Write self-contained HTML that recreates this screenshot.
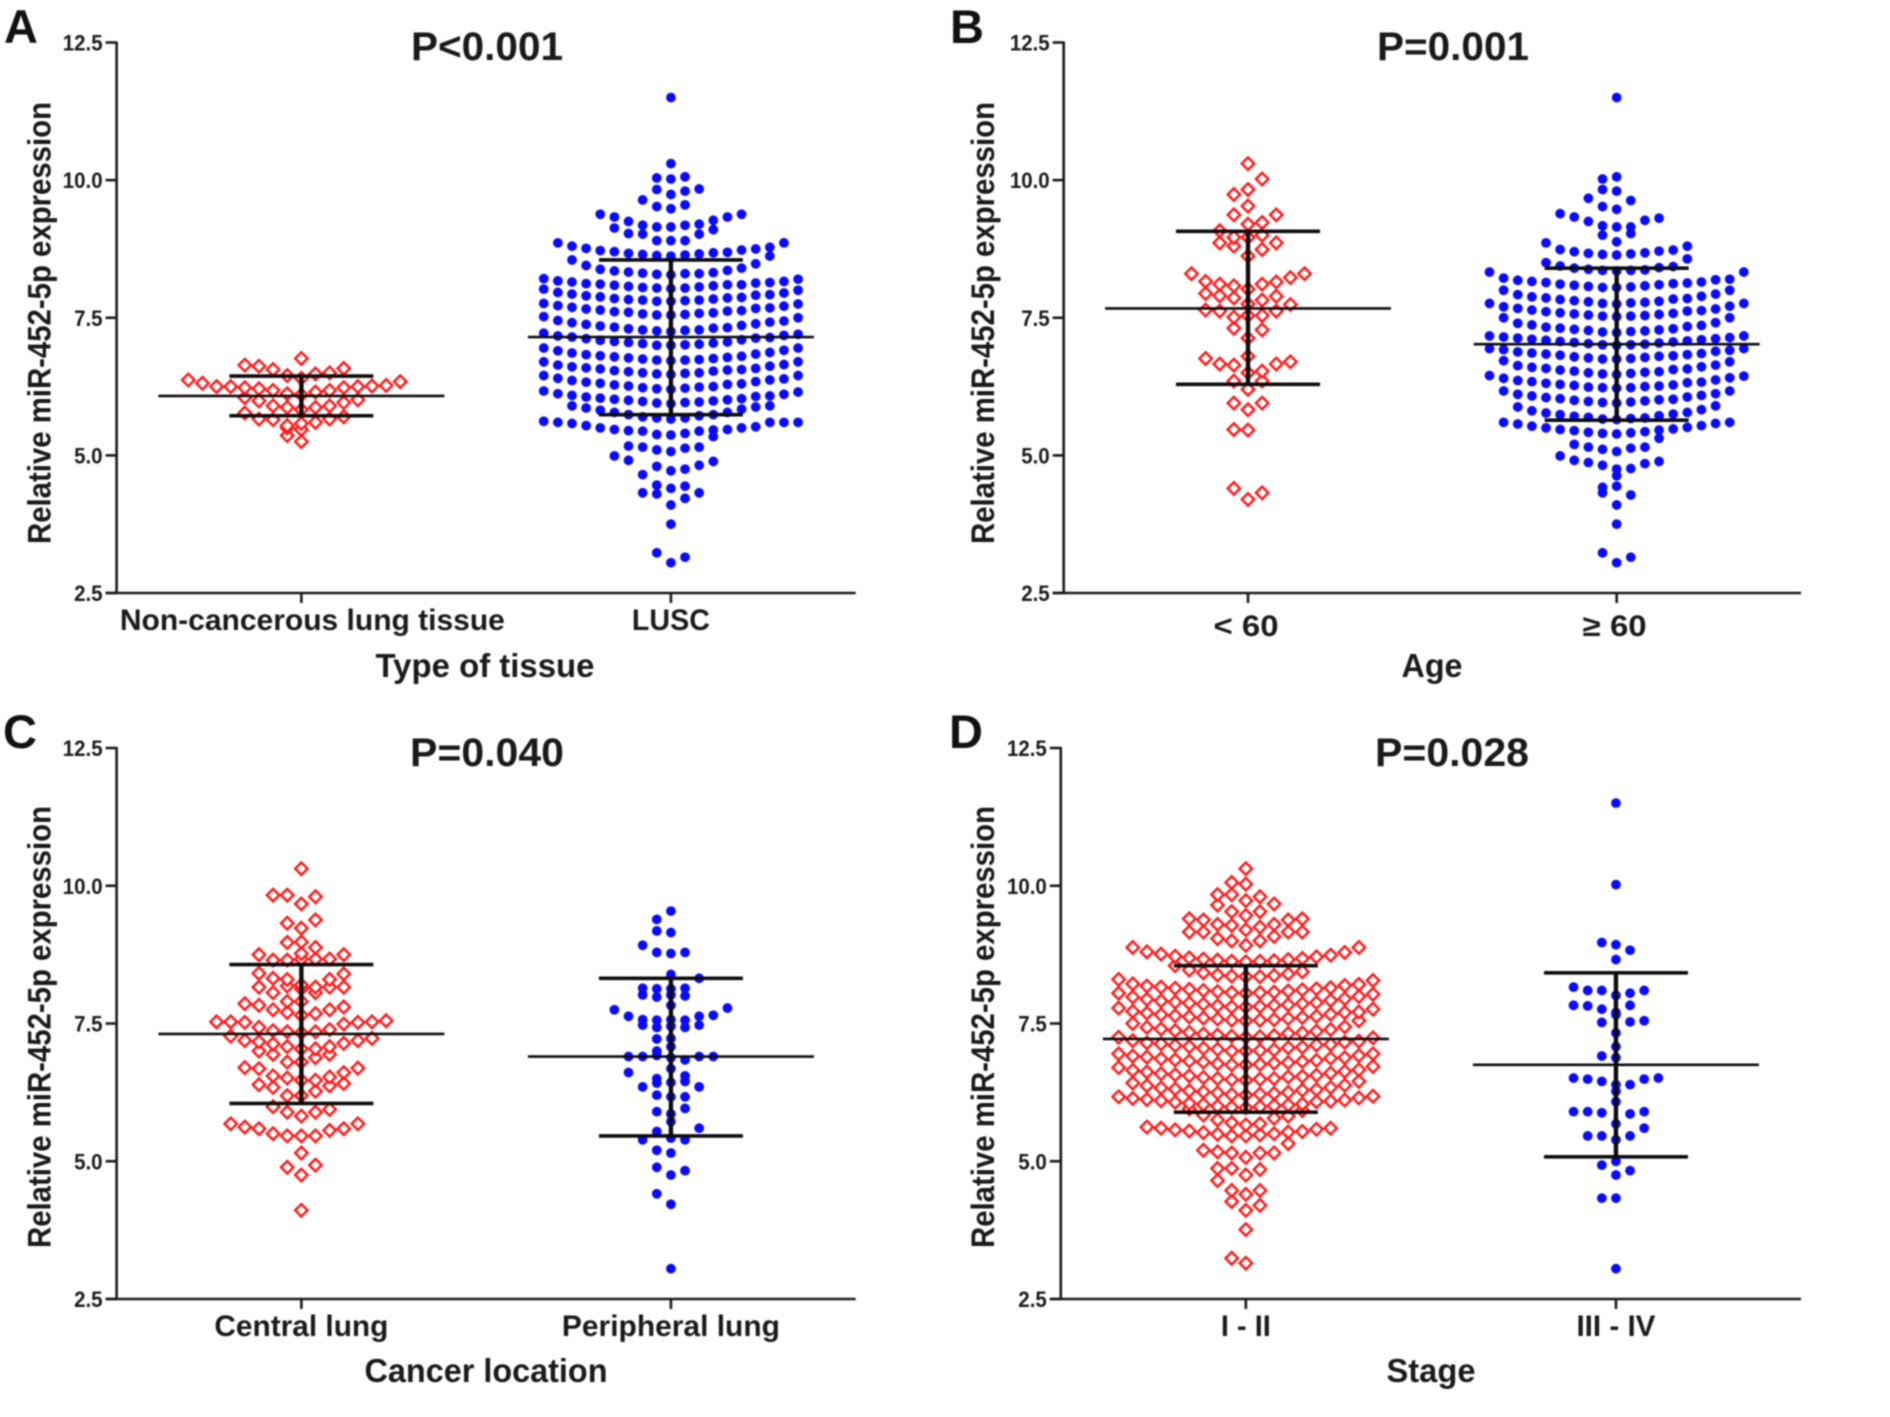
<!DOCTYPE html>
<html lang="en">
<head>
<meta charset="utf-8">
<title>Relative miR-452-5p expression</title>
<style>
html,body{margin:0;padding:0;background:#fff;width:1890px;height:1417px;overflow:hidden}
svg{display:block;filter:blur(.7px)}
text{font-family:"Liberation Sans",Arial,sans-serif;font-weight:bold;fill:#1a1a1a}
</style>
</head>
<body>
<svg id="figure" xmlns="http://www.w3.org/2000/svg" width="1890" height="1417" viewBox="0 0 1890 1417">
<rect width="1890" height="1417" fill="#fff"/>

<g id="panel-a">
<text x="4" y="43" font-size="47" style="fill:#111">A</text>
<text x="487" y="60" font-size="40" text-anchor="middle" textLength="152" lengthAdjust="spacingAndGlyphs">P&lt;0.001</text>
<text transform="translate(50.5,323) rotate(-90)" font-size="32" text-anchor="middle" textLength="442" lengthAdjust="spacingAndGlyphs">Relative miR-452-5p expression</text>
<text x="485" y="677" font-size="33" text-anchor="middle" textLength="219" lengthAdjust="spacingAndGlyphs">Type of tissue</text>
</g>

<g id="panel-b">
<text x="950" y="43" font-size="47" style="fill:#111">B</text>
<text x="1453" y="60" font-size="40" text-anchor="middle" textLength="152" lengthAdjust="spacingAndGlyphs">P=0.001</text>
<text transform="translate(994,323) rotate(-90)" font-size="32" text-anchor="middle" textLength="442" lengthAdjust="spacingAndGlyphs">Relative miR-452-5p expression</text>
<text x="1432" y="677" font-size="33" text-anchor="middle" textLength="61" lengthAdjust="spacingAndGlyphs">Age</text>
</g>

<g id="panel-c">
<text x="3" y="748" font-size="47" style="fill:#111">C</text>
<text x="487" y="766" font-size="40" text-anchor="middle" textLength="154" lengthAdjust="spacingAndGlyphs">P=0.040</text>
<text transform="translate(50.5,1027) rotate(-90)" font-size="32" text-anchor="middle" textLength="442" lengthAdjust="spacingAndGlyphs">Relative miR-452-5p expression</text>
<text x="486" y="1382" font-size="33" text-anchor="middle" textLength="243" lengthAdjust="spacingAndGlyphs">Cancer location</text>
</g>

<g id="panel-d">
<text x="949" y="748" font-size="47" style="fill:#111">D</text>
<text x="1452" y="766" font-size="40" text-anchor="middle" textLength="154" lengthAdjust="spacingAndGlyphs">P=0.028</text>
<text transform="translate(994,1027) rotate(-90)" font-size="32" text-anchor="middle" textLength="442" lengthAdjust="spacingAndGlyphs">Relative miR-452-5p expression</text>
<text x="1431" y="1382" font-size="33" text-anchor="middle" textLength="89" lengthAdjust="spacingAndGlyphs">Stage</text>
</g>
</svg>

<script>
// ---- shared axis data ----
const yTickValues = [2.5, 5.0, 7.5, 10.0, 12.5];
const yTickLabels = ['2.5', '5.0', '7.5', '10.0', '12.5'];

// ---- panel A ----
const aCategories = ['Non-cancerous lung tissue', 'LUSC'];
const aMeans = [6.08, 7.15];
const aUpper = [6.44, 8.55];
const aLower = [5.72, 5.74];
// each inner array is one swarm row, listed centre-outward
const aNonCancerous = [
 [5.25,5.36],
 [5.47,5.5],
 [5.58,5.54,5.6,5.65,5.66,5.66,5.7,5.77],
 [5.83,5.87,5.87,5.9,5.9,5.99,5.96,6.05,6.01],
 [6.1,6.12,6.15,6.18,6.18,6.21,6.23,6.23,6.25,6.25,6.26,6.25,6.27,6.31,6.34,6.37],
 [6.4,6.45,6.48,6.56,6.5,6.62,6.58,6.64],
 [6.76]
];
const aLusc = [
 [3.05,3.23,3.15],
 [3.75],
 [4.1,4.3,4.22,4.32,4.32],
 [4.4,4.46,4.44],
 [4.72,4.8,4.75,4.65,4.82,4.91,4.89,4.99],
 [5.07,5.1,5.13,5.15,5.15,5.17,5.34],
 [5.37,5.38,5.4,5.44,5.44,5.45,5.46,5.47,5.47,5.5,5.5,5.54,5.52,5.58,5.6,5.6,5.6,5.62,5.6],
 [5.66,5.68,5.68,5.7,5.72,5.74,5.74,5.78,5.78,5.82,5.84,5.86,5.88,5.9,5.9],
 [5.94,5.95,5.96,5.98,5.97,6.0,5.99,6.02,6.01,6.04,6.03,6.06,6.07,6.09,6.08,6.12,6.11,6.17,6.15],
 [6.2,6.21,6.22,6.23,6.24,6.26,6.25,6.28,6.29,6.31,6.3,6.33,6.34,6.36,6.37,6.4,6.39,6.45,6.45],
 [6.47,6.48,6.49,6.5,6.5,6.52,6.53,6.54,6.55,6.57,6.56,6.59,6.58,6.61,6.62,6.64,6.65,6.7,6.7],
 [6.72,6.73,6.73,6.75,6.74,6.77,6.76,6.79,6.78,6.81,6.8,6.83,6.84,6.86,6.87,6.9,6.91,6.95,6.95],
 [7.0,7.0,7.01,7.03,7.02,7.05,7.04,7.07,7.06,7.09,7.1,7.12,7.13,7.15,7.14,7.17,7.18,7.22,7.2],
 [7.25,7.26,7.27,7.28,7.28,7.3,7.31,7.33,7.32,7.35,7.36,7.38,7.39,7.41,7.42,7.45,7.44,7.52,7.5],
 [7.55,7.55,7.56,7.57,7.58,7.6,7.59,7.61,7.62,7.64,7.63,7.66,7.67,7.69,7.68,7.72,7.71,7.76,7.75],
 [7.8,7.8,7.81,7.82,7.82,7.83,7.84,7.85,7.86,7.88,7.87,7.9,7.91,7.93,7.92,7.96,7.95,8.02,8.0],
 [8.03,8.04,8.04,8.05,8.06,8.07,8.08,8.09,8.1,8.11,8.1,8.12,8.13,8.15,8.14,8.17,8.16,8.21,8.2],
 [8.28,8.29,8.3,8.31,8.3,8.33,8.32,8.35,8.36,8.38,8.4,8.45,8.48,8.55,8.62],
 [8.62,8.63,8.64,8.65,8.66,8.67,8.68,8.7,8.69,8.72,8.73,8.76,8.75,8.8,8.78,8.86,8.86],
 [8.9,8.9,8.9,9.02,9.02,9.03,9.1,9.13],
 [9.15,9.15,9.18,9.18,9.2,9.25,9.27,9.33,9.33,9.38,9.38],
 [9.48,9.52,9.55],
 [9.74,9.83,9.8,9.64,9.84],
 [10.02,10.04,10.06],
 [10.3],
 [11.5]
];

// ---- panel B ----
const bCategories = ['< 60', '\u2265 60'];
const bMeans = [7.67, 7.02];
const bUpper = [9.07, 8.4];
const bLower = [6.29, 5.64];
const bUnder60 = [
 [4.2,4.4,4.32],
 [5.46,5.47],
 [5.83,5.95,5.95],
 [6.2,6.35,6.35],
 [6.5,6.64,6.53,6.66,6.66,6.76,6.7],
 [6.8],
 [7.13,7.31,7.28],
 [7.54,7.51,7.54,7.62,7.62,7.64,7.74],
 [7.75,7.86,7.82,7.9,7.89,7.94],
 [8.02,8.08,8.11,8.11,8.15,8.16,8.23,8.3,8.3],
 [8.62,8.8,8.74,8.86,8.86],
 [8.96,8.96,9.0],
 [9.2,9.37,9.23,9.08,9.37],
 [9.53],
 [9.83,9.74,10.02],
 [10.3]
];
const bOver60 = [
 [3.05,3.23,3.15],
 [3.75],
 [4.1,4.32,4.28],
 [4.44,4.42],
 [4.75,4.82,4.76,4.87,4.85,4.91,4.89,4.99],
 [4.63],
 [5.07,5.11,5.13,5.15,5.15,5.2,5.31],
 [5.39,5.4,5.41,5.42,5.43,5.45,5.46,5.47,5.48,5.5,5.51,5.53,5.54,5.57,5.58,5.6,5.6],
 [5.65,5.66,5.67,5.69,5.68,5.71,5.72,5.74,5.75,5.77,5.78,5.81,5.83,5.88,5.9],
 [5.95,5.96,5.97,5.98,5.99,6.0,6.01,6.03,6.02,6.05,6.06,6.08,6.09,6.11,6.12,6.17,6.17],
 [6.22,6.23,6.23,6.24,6.25,6.27,6.26,6.29,6.28,6.31,6.32,6.34,6.33,6.36,6.37,6.4,6.41,6.45,6.44],
 [6.47,6.48,6.49,6.5,6.51,6.53,6.52,6.55,6.56,6.58,6.57,6.6,6.61,6.63,6.64,6.72,6.7],
 [6.75,6.75,6.76,6.77,6.78,6.79,6.8,6.82,6.81,6.84,6.83,6.86,6.85,6.88,6.89,6.92,6.91,6.94,6.94],
 [7.0,7.01,7.01,7.03,7.02,7.05,7.04,7.07,7.06,7.09,7.08,7.11,7.1,7.13,7.12,7.15,7.14,7.17,7.17],
 [7.23,7.24,7.25,7.27,7.26,7.29,7.28,7.31,7.3,7.33,7.34,7.37,7.36,7.4,7.41,7.5,7.5],
 [7.52,7.53,7.53,7.55,7.54,7.57,7.56,7.59,7.58,7.61,7.62,7.64,7.63,7.67,7.66,7.7,7.71,7.76,7.76],
 [7.75,7.76,7.77,7.79,7.78,7.81,7.8,7.83,7.84,7.86,7.85,7.88,7.89,7.92,7.93,8.0,8.0],
 [8.05,8.05,8.06,8.07,8.08,8.09,8.1,8.11,8.12,8.14,8.13,8.16,8.15,8.18,8.19,8.22,8.2,8.33,8.33],
 [8.35,8.36,8.36,8.38,8.37,8.4,8.41,8.44,8.43,8.5,8.57],
 [8.64,8.65,8.66,8.67,8.68,8.7,8.71,8.74,8.73,8.86,8.8],
 [8.88,9.0,9.03],
 [9.15,9.17,9.15,9.25,9.27,9.33,9.31,9.39],
 [9.47,9.52,9.63,9.67],
 [9.8,9.83],
 [10.06,10.02],
 [11.5]
];

// ---- panel C ----
const cCategories = ['Central lung', 'Peripheral lung'];
const cMeans = [7.31, 6.9];
const cUpper = [8.57, 8.32];
const cLower = [6.05, 5.46];
const cCentral = [
 [4.11],
 [4.75,4.89,4.93],
 [5.15],
 [5.46,5.46,5.46,5.5,5.56,5.59,5.59,5.62,5.68,5.68],
 [5.82,5.89,5.89,5.99,5.94],
 [6.19,6.19,6.27,6.34,6.37,6.39,6.41],
 [6.47,6.51,6.47,6.55,6.53,6.68,6.61,6.7,6.69],
 [6.8,6.8,6.88,6.94,6.94,7.0],
 [7.04,7.08,7.04,7.13,7.08,7.17,7.14,7.19,7.19,7.27,7.23],
 [7.33,7.35,7.35,7.37,7.39,7.43,7.49,7.52,7.52,7.53,7.53,7.53,7.55],
 [7.65,7.7,7.68,7.75,7.75,7.83,7.8,7.86],
 [7.9,7.9],
 [8.13,8.18,8.06,8.06,8.16,8.16,8.16],
 [8.2,8.3,8.16,8.32,8.3,8.41,8.4],
 [8.67,8.65,8.67,8.65,8.67,8.75,8.75],
 [8.77,8.97,8.88],
 [8.98],
 [9.23,9.32,9.38],
 [9.67,9.83,9.8,9.83],
 [10.31]
];
const cPeripheral = [
 [3.05],
 [4.22,4.41],
 [4.75,4.89,4.83],
 [5.15,5.2],
 [5.42,5.54,5.39,5.39,5.6],
 [5.72],
 [5.86,5.9,5.96],
 [6.17,6.2,6.17],
 [6.43,6.42,6.45,6.35,6.35,6.61],
 [6.68,6.5,6.55],
 [6.88,6.92,6.84,6.9,6.9,6.9,6.9],
 [7.08,7.0],
 [7.23,7.22],
 [7.45,7.43,7.43,7.47,7.47],
 [7.57,7.56,7.56,7.57,7.63,7.63,7.65,7.75,7.78],
 [7.83],
 [8.02,7.98,8.0,8.02],
 [8.13,8.13,8.14,8.14,8.32],
 [8.39],
 [8.77,8.79,8.79,8.92],
 [9.15,9.18],
 [9.54,9.39]
];

// ---- panel D ----
const dCategories = ['I - II', 'III - IV'];
const dMeans = [7.22, 6.75];
const dUpper = [8.55, 8.42];
const dLower = [5.89, 5.08];
const dEarlyStage = [
 [3.15,3.24],
 [3.76],
 [4.11,4.27,4.2],
 [4.4,4.47,4.47,4.65],
 [4.75,4.87,4.85,4.87],
 [5.07,5.15,5.15,5.17,5.15,5.2,5.32],
 [5.46,5.46,5.48,5.49,5.5,5.52,5.53,5.55,5.54,5.57,5.58,5.6,5.6,5.62],
 [5.66,5.7,5.68,5.75,5.78,5.84,5.82,5.95,5.92],
 [5.97,5.98,5.99,6.0,6.01,6.03,6.02,6.05,6.04,6.07,6.08,6.1,6.09,6.12,6.11,6.14,6.15,6.17,6.18],
 [6.2,6.21,6.22,6.24,6.23,6.26,6.25,6.28,6.29,6.31,6.3,6.33,6.34,6.37,6.38,6.42,6.45],
 [6.47,6.48,6.49,6.5,6.5,6.52,6.53,6.55,6.54,6.57,6.56,6.59,6.6,6.62,6.63,6.65,6.66,6.7,6.72],
 [6.75,6.75,6.76,6.77,6.78,6.8,6.79,6.82,6.81,6.84,6.83,6.86,6.87,6.89,6.88,6.91,6.92,6.95,6.95],
 [7.0,7.0,7.01,7.03,7.02,7.05,7.06,7.08,7.07,7.1,7.11,7.13,7.12,7.15,7.16,7.19,7.18,7.25,7.24],
 [7.25,7.27,7.26,7.29,7.28,7.31,7.32,7.34,7.33,7.37,7.36,7.4,7.39,7.43,7.44,7.5,7.55],
 [7.55,7.56,7.56,7.58,7.57,7.6,7.59,7.62,7.61,7.64,7.63,7.66,7.67,7.69,7.7,7.72,7.71,7.78,7.76],
 [7.8,7.8,7.81,7.82,7.83,7.85,7.84,7.87,7.86,7.89,7.88,7.91,7.92,7.94,7.95,7.98,7.99,8.05,8.03],
 [8.05,8.06,8.06,8.08,8.07,8.1,8.09,8.12,8.11,8.14,8.13,8.16,8.15,8.18,8.19,8.22,8.21,8.3,8.28],
 [8.35,8.36,8.35,8.38,8.37,8.42,8.4,8.47,8.44,8.55],
 [8.62,8.63,8.63,8.65,8.64,8.67,8.66,8.69,8.68,8.72,8.71,8.76,8.74,8.8,8.79,8.88,8.88],
 [8.92,9.0,9.0,9.04,9.08,9.16,9.16,9.16,9.16],
 [9.2,9.28,9.25,9.3,9.3,9.38,9.38,9.4,9.4],
 [9.46,9.53,9.53,9.65,9.67],
 [9.73,9.84,9.8,9.84],
 [10.03,10.06],
 [10.31]
];
const dLateStage = [
 [3.05],
 [4.33,4.33],
 [4.75,4.93,4.83],
 [5.0],
 [5.39,5.46,5.46,5.46,5.6],
 [5.68],
 [6.08,5.88,5.86,5.9,5.9,5.9],
 [6.39,6.45,6.39,6.49,6.49,6.51,6.51],
 [6.27],
 [6.88,6.91],
 [7.08],
 [7.33],
 [7.66,7.52,7.53,7.82,7.55,7.83],
 [7.7,7.76,7.83],
 [8.01,8.1,8.05,8.1,8.1,8.16],
 [8.66],
 [8.93,8.97,8.83],
 [10.02],
 [11.5]
];

const SVGNS = 'http://www.w3.org/2000/svg';
const COL_STEP = 14.13;

function make(parent, tag, attrs, text) {
  const el = document.createElementNS(SVGNS, tag);
  for (const k in attrs) el.setAttribute(k, attrs[k]);
  if (text !== undefined) el.textContent = text;
  parent.appendChild(el);
  return el;
}

// centre-outward column offset: 0, -1, +1, -2, +2 ...
function columnOffset(i) {
  return i === 0 ? 0 : (i % 2 === 1 ? -(i + 1) / 2 : i / 2);
}

function drawPanel(p) {
  const root = document.getElementById(p.id);
  const yScale = v => p.bottom - (v - 2.5) * (p.bottom - p.top) / 10;
  const xScale = i => p.left + (p.right - p.left) * (i + 0.5) / 2;

  p.series.forEach((rows, s) => {
    const g = make(root, 'g', {});
    
    
    rows.forEach(row => {
      row.forEach((v, i) => {
        const cx = xScale(s) + columnOffset(i) * COL_STEP;
        const cy = yScale(v);
        let mark;
        if (s === 0) {
          const r = 6.2;
          mark = make(g, 'polygon', {
            points: `${cx},${cy - r} ${cx + r},${cy} ${cx},${cy + r} ${cx - r},${cy}`,
            fill: '#fff', stroke: '#ff1a1a', 'stroke-width': 2.5
          });
          
          
        } else {
          mark = make(g, 'circle', { cx: cx, cy: cy, r: 4.9, fill: '#0a0aff' });
          
          
        }
      });
    });
  });

  p.means.forEach((m, i) => {
    const x = xScale(i);
    const g = make(root, 'g', { stroke: '#0c0c0c', fill: 'none' });
    
    
    const meanLine = make(g, 'line', { x1: x - 143, x2: x + 143, y1: yScale(m), y2: yScale(m), 'stroke-width': 2.6 });
    
    
    const stem = make(g, 'line', { x1: x, x2: x, y1: yScale(p.upper[i]), y2: yScale(p.lower[i]), 'stroke-width': 4.4 });
    
    
    const capHi = make(g, 'line', { x1: x - 72, x2: x + 72, y1: yScale(p.upper[i]), y2: yScale(p.upper[i]), 'stroke-width': 3.6 });
    
    
    const capLo = make(g, 'line', { x1: x - 72, x2: x + 72, y1: yScale(p.lower[i]), y2: yScale(p.lower[i]), 'stroke-width': 3.6 });
    
    
  });

  const axes = make(root, 'g', { stroke: '#1a1a1a', 'stroke-width': 2.6, fill: 'none' });
  
  
  const yAxis = make(axes, 'line', { x1: p.left, x2: p.left, y1: p.top - 1, y2: p.bottom + 1 });
  
  
  const xAxis = make(axes, 'line', { x1: p.left - 11, x2: p.right, y1: p.bottom, y2: p.bottom });
  
  

  yTickValues.forEach((t, i) => {
    const y = yScale(t);
    const tick = make(axes, 'line', { x1: p.left - 11, x2: p.left, y1: y, y2: y });
    
    
    const lab = make(root, 'text', { x: p.left - 14, y: y + 8, 'font-size': 22, 'text-anchor': 'end' }, yTickLabels[i]);
    
    
    lab.setAttribute('textLength', (lab.getComputedTextLength() * 0.93).toFixed(1));
    lab.setAttribute('lengthAdjust', 'spacingAndGlyphs');
  });

  p.categories.forEach((c, i) => {
    const x = xScale(i);
    const tick = make(axes, 'line', { x1: x, x2: x, y1: p.bottom, y2: p.bottom + 10 });
    
    
    const lab = make(root, 'text', {
      x: x + p.labelShifts[i], y: p.labelY, 'font-size': 30, 'text-anchor': 'middle',
      textLength: p.labelWidths[i], lengthAdjust: 'spacingAndGlyphs'
    }, c);
    
    
  });
}

drawPanel({ id: 'panel-a', left: 116.6, right: 855.7, top: 42.5, bottom: 593, labelY: 630,
  labelWidths: [385, 78], labelShifts: [11, 0], categories: aCategories, series: [aNonCancerous, aLusc],
  means: aMeans, upper: aUpper, lower: aLower });
drawPanel({ id: 'panel-b', left: 1063.7, right: 1801, top: 42.5, bottom: 593, labelY: 636,
  labelWidths: [65, 64], labelShifts: [-2, -2], categories: bCategories, series: [bUnder60, bOver60],
  means: bMeans, upper: bUpper, lower: bLower });
drawPanel({ id: 'panel-c', left: 116.6, right: 855.7, top: 748, bottom: 1299, labelY: 1336,
  labelWidths: [174, 218], labelShifts: [0, 0], categories: cCategories, series: [cCentral, cPeripheral],
  means: cMeans, upper: cUpper, lower: cLower });
drawPanel({ id: 'panel-d', left: 1060.8, right: 1801, top: 748, bottom: 1299, labelY: 1336,
  labelWidths: [50, 79], labelShifts: [0, 0], categories: dCategories, series: [dEarlyStage, dLateStage],
  means: dMeans, upper: dUpper, lower: dLower });
</script>
</body>
</html>
